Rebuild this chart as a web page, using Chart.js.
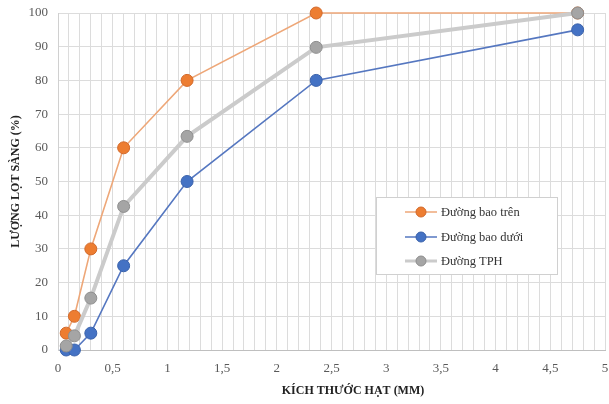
<!DOCTYPE html>
<html><head><meta charset="utf-8">
<script src="https://cdn.jsdelivr.net/npm/chart.js@4/dist/chart.umd.min.js"></script>
<style>html,body{margin:0;padding:0;background:#fff}#wrap{width:609px;height:404px}</style>
</head><body><div id="wrap"><canvas id="c" width="609" height="404"></canvas></div>
<script>
const sieveSizes = [0.075, 0.15, 0.3, 0.6, 1.18, 2.36, 4.75];
const upperEnvelope = [5, 10, 30, 60, 80, 100, 100];
const lowerEnvelope = [0, 0, 5, 25, 50, 80, 95];
const gradingCurve = [1.2, 4.2, 15.4, 42.6, 63.4, 89.8, 100];
const seriesNames = ['Đường bao trên', 'Đường bao dưới', 'Đường TPH'];
const xTitle = 'KÍCH THƯỚC HẠT (MM)';
const yTitle = 'LƯỢNG LỌT SÀNG (%)';

const toPts = (ys) => sieveSizes.map((x, i) => ({x: x, y: ys[i]}));
const serif = '"Liberation Serif", "DejaVu Serif", serif';

const legendPlugin = {
  id: 'boxLegend',
  afterDraw(chart) {
    const ctx = chart.ctx;
    ctx.save();
    const bx = 376.5, by = 197.5, bw = 181, bh = 77;
    ctx.fillStyle = '#fff';
    ctx.fillRect(bx, by, bw, bh);
    ctx.strokeStyle = '#d0d0d0';
    ctx.lineWidth = 1;
    ctx.strokeRect(bx, by, bw, bh);
    const ys = [212, 237, 261];
    chart.data.datasets.forEach((ds, i) => {
      const y = ys[i];
      ctx.strokeStyle = ds.borderColor;
      ctx.lineWidth = ds.legendLineWidth || 1.5;
      ctx.beginPath(); ctx.moveTo(405, y); ctx.lineTo(437, y); ctx.stroke();
      ctx.fillStyle = ds.pointBackgroundColor;
      ctx.strokeStyle = ds.pointBorderColor;
      ctx.lineWidth = 1;
      ctx.beginPath(); ctx.arc(421, y, 5, 0, Math.PI * 2); ctx.fill(); ctx.stroke();
      ctx.fillStyle = '#333';
      ctx.font = '12.5px ' + serif;
      ctx.textBaseline = 'middle';
      ctx.textAlign = 'left';
      ctx.fillText(ds.label, 441, y + 1);
    });
    ctx.fillStyle = '#222';
    ctx.font = 'bold 12px ' + serif;
    ctx.textAlign = 'center';
    ctx.textBaseline = 'middle';
    const ca = chart.chartArea;
    ctx.fillText(xTitle, 353, 391);
    ctx.translate(16, (ca.top + ca.bottom) / 2);
    ctx.rotate(-Math.PI / 2);
    ctx.fillText(yTitle, 0, 0);
    ctx.restore();
  }
};

new Chart(document.getElementById('c'), {
  type: 'line',
  data: {
    datasets: [
      {label: seriesNames[0], data: toPts(upperEnvelope), borderColor: '#eea778', borderWidth: 1.6, clip: false,
       pointBackgroundColor: '#ED7D31', pointBorderColor: '#d2692a', pointRadius: 6, pointBorderWidth: 1, order: 1},
      {label: seriesNames[1], data: toPts(lowerEnvelope), borderColor: '#5577c0', borderWidth: 1.6, clip: false,
       pointBackgroundColor: '#4472C4', pointBorderColor: '#3a62ab', pointRadius: 6, pointBorderWidth: 1, order: 2},
      {label: seriesNames[2], data: toPts(gradingCurve), borderColor: '#cbcbcb', borderWidth: 4, legendLineWidth: 3, clip: false,
       pointBackgroundColor: '#A5A5A5', pointBorderColor: '#8e8e8e', pointRadius: 6, pointBorderWidth: 1, order: 0}
    ]
  },
  options: {
    responsive: false,
    animation: false,
    devicePixelRatio: 1,
    layout: {autoPadding: false, padding: {top: 13, right: 4, left: 0, bottom: 0}},
    plugins: {legend: {display: false}, tooltip: {enabled: false}},
    scales: {
      x: {
        type: 'linear', min: 0, max: 5,
        grid: {color: '#dcdcdc', drawTicks: false},
        border: {color: '#bfbfbf'},
        ticks: {
          stepSize: 0.1, autoSkip: false, maxRotation: 0, padding: 11,
          color: '#595959', font: {family: serif, size: 13},
          callback: (v) => {
            const h = v * 2;
            if (Math.abs(h - Math.round(h)) < 1e-6) {
              const r = Math.round(h) / 2;
              return String(r).replace('.', ',');
            }
            return '';
          }
        },
        afterFit: (s) => { s.height = 54; s.paddingLeft = 0; s.paddingRight = 0; }
      },
      y: {
        type: 'linear', min: 0, max: 100,
        grid: {color: '#dcdcdc', drawTicks: false},
        border: {color: '#d0d0d0'},
        ticks: {stepSize: 10, padding: 10, color: '#595959', font: {family: serif, size: 13}},
        afterFit: (s) => { s.width = 58; s.paddingTop = 0; s.paddingBottom = 0; }
      }
    }
  },
  plugins: [legendPlugin]
});
</script>
</body></html>
